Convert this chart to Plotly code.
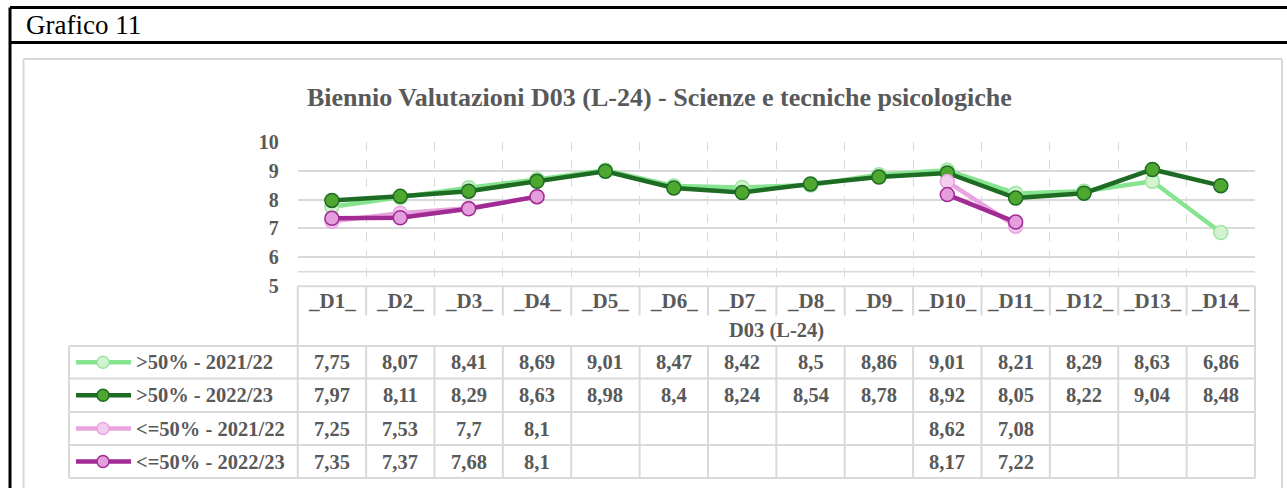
import plotly.graph_objects as go

# ---------------- data ----------------
categories = ["_D1_", "_D2_", "_D3_", "_D4_", "_D5_", "_D6_", "_D7_",
              "_D8_", "_D9_", "_D10_", "_D11_", "_D12_", "_D13_", "_D14_"]
series_names = [">50% - 2021/22", ">50% - 2022/23", "<=50% - 2021/22", "<=50% - 2022/23"]
gt50_2122 = [7.75, 8.07, 8.41, 8.69, 9.01, 8.47, 8.42, 8.5, 8.86, 9.01, 8.21, 8.29, 8.63, 6.86]
gt50_2223 = [7.97, 8.11, 8.29, 8.63, 8.98, 8.4, 8.24, 8.54, 8.78, 8.92, 8.05, 8.22, 9.04, 8.48]
le50_2122 = [7.25, 7.53, 7.7, 8.1, None, None, None, None, None, 8.62, 7.08, None, None, None]
le50_2223 = [7.35, 7.37, 7.68, 8.1, None, None, None, None, None, 8.17, 7.22, None, None, None]
y_ticks = [5, 6, 7, 8, 9, 10]
title = "Biennio Valutazioni D03 (L-24) - Scienze e tecniche psicologiche"
axis_title = "D03 (L-24)"
header = "Grafico 11"

series = [gt50_2122, gt50_2223, le50_2122, le50_2223]
line_colors = ["#86E38F", "#1E6B23", "#E9A3DF", "#A02B93"]
marker_fill = ["#D3F2CF", "#4EA72E", "#F3CDEF", "#E49EDD"]
marker_line = ["#9BE6A0", "#1E6B23", "#E9A3DF", "#A02B93"]

# ---------------- geometry (pixels) ----------------
W, H = 1287, 488
PX_L, PX_R = 297.7, 1255.0
Y10, Y5 = 141.7, 286.3
COLW = (PX_R - PX_L) / len(categories)
LEG_L = 69
ROW_HEAD = (286.3, 315.5)
ROW_AXT = (315.5, 346.0)
ROWS = [(346.0, 378.5), (378.5, 412.0), (412.0, 445.0), (445.0, 478.0)]

TXT = "#595959"
GRID = "#D9D9D9"
FONT = "Liberation Serif"


def X(px):
    return min(max(px / W, 0), 1)


def Y(py):
    return min(max(1 - py / H, 0), 1)


def fmt(v):
    return "" if v is None else str(v).replace(".", ",")


fig = go.Figure()
xs = list(range(len(categories)))
for name, vals, lc, mf, ml in zip(series_names, series, line_colors, marker_fill, marker_line):
    fig.add_trace(go.Scatter(
        x=xs, y=vals, name=name, mode="lines+markers",
        line=dict(color=lc, width=4.5),
        marker=dict(size=14, color=mf, line=dict(color=ml, width=1.5)),
        connectgaps=False, showlegend=False,
    ))

shapes = []
ann = []


def hline(y, x0, x1, color=GRID, width=2, layer="above"):
    shapes.append(dict(type="line", xref="paper", yref="paper", x0=X(x0), x1=X(x1),
                       y0=Y(y), y1=Y(y), line=dict(color=color, width=width), layer=layer))


def vline(x, y0, y1, color=GRID, width=2, layer="above"):
    shapes.append(dict(type="line", xref="paper", yref="paper", x0=X(x), x1=X(x),
                       y0=Y(y0), y1=Y(y1), line=dict(color=color, width=width), layer=layer))


# outer frame + header band
hline(7.5, 10, W, color="black", width=3)
hline(42.5, 10, W, color="black", width=3)
vline(10, 7.5, H, color="black", width=3)
# chart area border
hline(59, 23.5, 1282, color=GRID, width=2, layer="below")
vline(23.5, 59, H, color=GRID, width=2, layer="below")
vline(1282, 59, H, color=GRID, width=2, layer="below")

# extra line of the category axis area
shapes.append(dict(type="line", xref="paper", yref="y", x0=X(PX_L), x1=X(PX_R), y0=5.5, y1=5.5,
                   line=dict(color=GRID, width=1.5), layer="below"))

# table grid
hline(ROW_HEAD[0], PX_L, PX_R)
hline(ROW_AXT[1], LEG_L, PX_R)
for (a, b) in ROWS:
    hline(b, LEG_L, PX_R)
for i in range(len(categories) + 1):
    xb = PX_L + i * COLW
    if i == 0 or i == len(categories):
        vline(xb, ROW_HEAD[0], ROWS[-1][1])
    else:
        vline(xb, ROW_HEAD[0], ROW_HEAD[1])
        vline(xb, ROWS[0][0], ROWS[-1][1])
vline(LEG_L, ROWS[0][0], ROWS[-1][1])

# header labels
for i, c in enumerate(categories):
    ann.append(dict(x=X(PX_L + (i + 0.5) * COLW), y=Y(301), text=c, showarrow=False,
                    xref="paper", yref="paper", xanchor="center", yanchor="middle",
                    font=dict(family=FONT, size=21, color=TXT, weight="bold")))
ann.append(dict(x=X((PX_L + PX_R) / 2), y=Y(330), text=axis_title, showarrow=False,
                xref="paper", yref="paper", xanchor="center", yanchor="middle",
                font=dict(family=FONT, size=20.5, color=TXT, weight="bold")))

# data rows
for r, (name, vals, lc, mf, ml) in enumerate(zip(series_names, series, line_colors, marker_fill, marker_line)):
    yc = (ROWS[r][0] + ROWS[r][1]) / 2
    shapes.append(dict(type="line", xref="paper", yref="paper", x0=X(76), x1=X(131), y0=Y(yc), y1=Y(yc),
                       line=dict(color=lc, width=4.5), layer="above"))
    shapes.append(dict(type="circle", xref="paper", yref="paper", xsizemode="pixel", ysizemode="pixel",
                       xanchor=X(103), yanchor=Y(yc), x0=-6, x1=6, y0=-6, y1=6,
                       fillcolor=mf, line=dict(color=ml, width=1.5), layer="above"))
    ann.append(dict(x=X(134), y=Y(yc), text=name, showarrow=False,
                    xref="paper", yref="paper", xanchor="left", yanchor="middle",
                    font=dict(family=FONT, size=20.5, color=TXT, weight="bold")))
    for i, v in enumerate(vals):
        if v is None:
            continue
        ann.append(dict(x=X(PX_L + (i + 0.5) * COLW), y=Y(yc), text=fmt(v), showarrow=False,
                        xref="paper", yref="paper", xanchor="center", yanchor="middle",
                        font=dict(family=FONT, size=20.5, color=TXT, weight="bold")))

# title + header text
ann.append(dict(x=X(659), y=Y(98), text=title, showarrow=False, xref="paper", yref="paper",
                xanchor="center", yanchor="middle",
                font=dict(family=FONT, size=26, color=TXT, weight="bold")))
ann.append(dict(x=X(24), y=Y(25), text=header, showarrow=False, xref="paper", yref="paper",
                xanchor="left", yanchor="middle",
                font=dict(family=FONT, size=27, color="black")))

fig.update_layout(
    width=W, height=H, margin=dict(l=0, r=0, t=0, b=0, pad=0, autoexpand=False),
    paper_bgcolor="white", plot_bgcolor="white",
    shapes=shapes, annotations=ann,
    xaxis=dict(domain=[X(PX_L), X(PX_R)], range=[-0.5, len(categories) - 0.5],
               tickvals=[i - 0.5 for i in range(len(categories) + 1)],
               showticklabels=False, ticks="", showgrid=True, gridcolor=GRID,
               griddash="dash", gridwidth=1, zeroline=False, showline=False, fixedrange=True,
               automargin=False),
    yaxis=dict(domain=[Y(Y5), Y(Y10)], range=[5, 10], tickvals=y_ticks,
               showgrid=True, gridcolor=GRID, gridwidth=1.5, zeroline=False, showline=False,
               ticks="", ticklabelstandoff=18, automargin=False,
               tickfont=dict(family=FONT, size=20, color=TXT, weight="bold"), fixedrange=True),
)

fig.write_html("out.html", config={"displayModeBar": False},
               post_script="document.body.style.margin='0';document.body.style.overflow='hidden';")
